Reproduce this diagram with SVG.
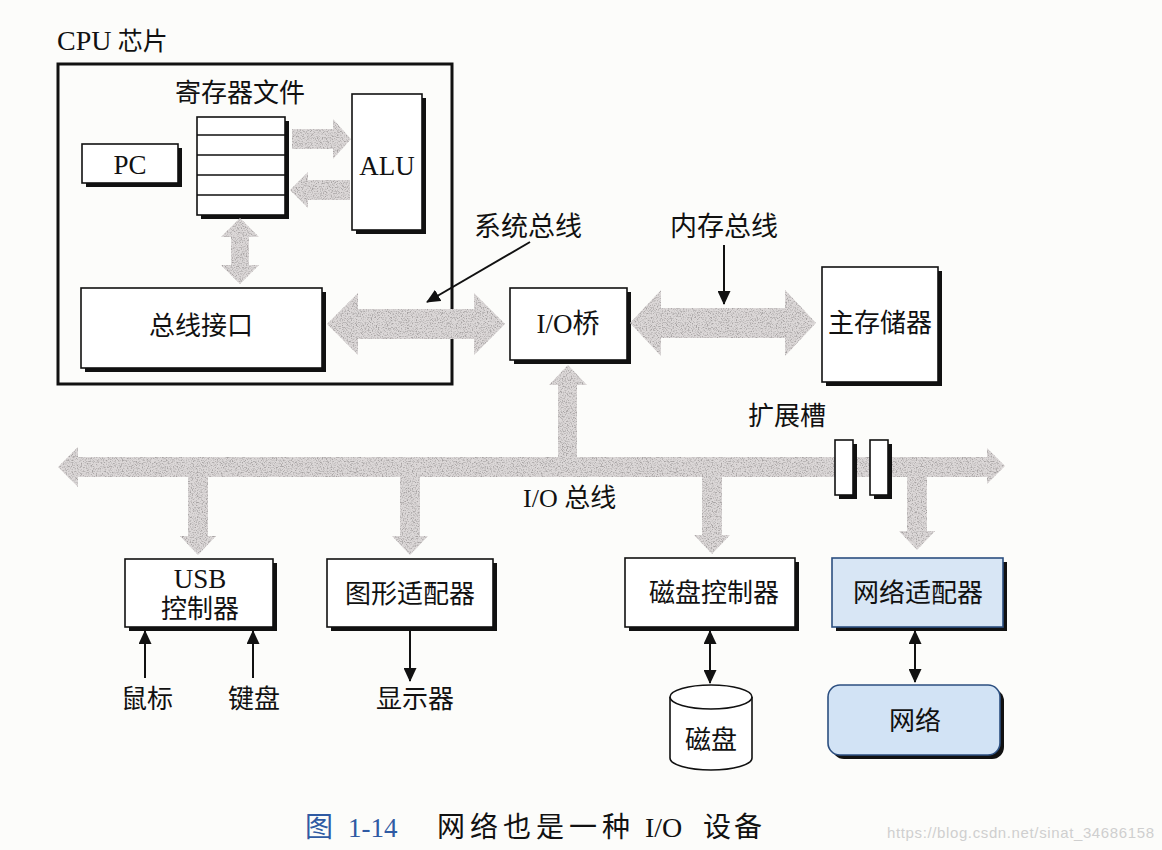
<svg xmlns="http://www.w3.org/2000/svg" width="1162" height="850" viewBox="0 0 1162 850">
<style>
.cj{font-family:"Liberation Serif","Noto Sans CJK SC",serif;fill:#111;}
.lt{font-family:"Liberation Serif",serif;fill:#111;}
.box{fill:#fff;stroke:#111;stroke-width:1.6;}
.shd{fill:#111;}
.thin{stroke:#111;stroke-width:2;fill:none;}
.bus{fill:#dcd8d8;}
</style>
<defs>
<filter id="grain" x="-2%" y="-2%" width="104%" height="104%">
<feTurbulence type="fractalNoise" baseFrequency="0.8" numOctaves="2" seed="7" result="noise"/>
<feColorMatrix in="noise" type="matrix" values="0 0 0 0 0.38 0 0 0 0 0.36 0 0 0 0 0.36 3.4 0 0 0 -1.55" result="dots"/>
<feComposite in="dots" in2="SourceGraphic" operator="in" result="clipped"/>
<feMerge><feMergeNode in="SourceGraphic"/><feMergeNode in="clipped"/></feMerge>
</filter>
<marker id="ah" markerUnits="userSpaceOnUse" markerWidth="14" markerHeight="13" viewBox="0 0 14 13" refX="13" refY="6.5" orient="auto-start-reverse">
<path d="M0,0 L14,6.5 L0,13 Z" fill="#111"/>
</marker>
</defs>
<rect x="0" y="0" width="1162" height="850" fill="#fcfcfa"/>

<g id="cpu-chip">
<text class="cj" x="57" y="50" font-size="25"><tspan font-size="28">CPU</tspan> 芯片</text>
<rect x="58" y="64" width="394" height="320" fill="none" stroke="#111" stroke-width="3"/>
</g>

<g id="register-file">
<text class="cj" x="240" y="102" font-size="26" text-anchor="middle">寄存器文件</text>
<rect class="shd" x="201" y="121" width="88" height="98"/>
<rect class="box" x="197" y="117" width="88" height="98"/>
<path d="M197,135 H285 M197,155 H285 M197,175 H285 M197,195 H285" stroke="#111" stroke-width="1.6"/>
</g>

<g id="pc">
<rect class="shd" x="86" y="148" width="96" height="39"/>
<rect class="box" x="82" y="144" width="96" height="39"/>
<text class="lt" x="130" y="174" font-size="27" text-anchor="middle">PC</text>
</g>

<g id="alu">
<rect class="shd" x="356" y="98" width="70" height="136"/>
<rect class="box" x="352" y="94" width="70" height="136"/>
<text class="lt" x="387" y="175" font-size="27" text-anchor="middle">ALU</text>
</g>

<g id="bus-interface">
<rect class="shd" x="85" y="292" width="241" height="80"/>
<rect class="box" x="81" y="288" width="241" height="80"/>
<text class="cj" x="201" y="335" font-size="26" text-anchor="middle">总线接口</text>
</g>

<g id="io-bridge">
<rect class="shd" x="514" y="292" width="117" height="72"/>
<rect class="box" x="510" y="288" width="117" height="72"/>
<text class="cj" x="568" y="333" font-size="27" text-anchor="middle">I/O桥</text>
</g>

<g id="main-memory">
<rect class="shd" x="826" y="271" width="116" height="115"/>
<rect class="box" x="822" y="267" width="116" height="115"/>
<text class="cj" x="880" y="332" font-size="26" text-anchor="middle">主存储器</text>
</g>

<g id="connectors">
<g id="wide-buses" class="bus" filter="url(#grain)">
<path id="reg-to-alu" d="M292,129 H333 V119 L351,139 L333,159 V149 H292 Z"/>
<path id="alu-to-reg" d="M350,180 H308 V172 L290,190 L308,208 V200 H350 Z"/>
<path id="reg-to-busif" d="M240,218 L259,237 H249 V265 H259 L240,284 L221,265 H231 V237 H221 Z"/>
<path id="system-bus" d="M327,324 L358,293 V309 H474 V293 L505,324 L474,355 V339 H358 V355 Z"/>
<path id="memory-bus" d="M630,323 L661,290 V308 H785 V290 L816,323 L785,356 V338 H661 V356 Z"/>
<path id="io-bus" d="M58,467 L78,447 V457 H987 V448 L1005,466 L987,484 V477 H78 V487 Z"/>
<path id="bus-to-bridge" d="M558,470 V385 H549 L568,365 L587,385 H577 V470 Z"/>
<path id="bus-to-usb" d="M188,470 V536 H180 L198,555 L216,536 H208 V470 Z"/>
<path id="bus-to-gfx" d="M400,470 V536 H392 L410,555 L428,536 H420 V470 Z"/>
<path id="bus-to-disk" d="M702,470 V535 H694 L712,554 L730,535 H722 V470 Z"/>
<path id="bus-to-net" d="M907,470 V531 H899 L917,550 L935,531 H927 V470 Z"/>
</g>
<line class="thin" x1="530" y1="242" x2="427" y2="302" marker-end="url(#ah)"/>
<line class="thin" x1="724" y1="245" x2="724" y2="304" marker-end="url(#ah)"/>
<line class="thin" x1="145" y1="678" x2="145" y2="631" marker-end="url(#ah)"/>
<line class="thin" x1="253" y1="678" x2="253" y2="631" marker-end="url(#ah)"/>
<line class="thin" x1="410" y1="631" x2="410" y2="681" marker-end="url(#ah)"/>
<line class="thin" x1="710" y1="631" x2="710" y2="683" marker-start="url(#ah)" marker-end="url(#ah)"/>
<line class="thin" x1="915" y1="631" x2="915" y2="682" marker-start="url(#ah)" marker-end="url(#ah)"/>
</g>

<g id="labels">
<text class="cj" x="528" y="236" font-size="27" text-anchor="middle">系统总线</text>
<text class="cj" x="724" y="236" font-size="27" text-anchor="middle">内存总线</text>
<text class="cj" x="748" y="425" font-size="26">扩展槽</text>
<text class="cj" x="523" y="507" font-size="26">I/O 总线</text>
</g>

<g id="expansion-slots">
<rect class="shd" x="839" y="444" width="18" height="55"/>
<rect class="box" x="835" y="440" width="18" height="55"/>
<rect class="shd" x="874" y="444" width="18" height="55"/>
<rect class="box" x="870" y="440" width="18" height="55"/>
</g>

<g id="usb-controller">
<rect class="shd" x="129" y="563" width="148" height="68"/>
<rect class="box" x="125" y="559" width="148" height="68"/>
<text class="lt" x="200" y="588" font-size="27" text-anchor="middle">USB</text>
<text class="cj" x="200" y="618" font-size="26" text-anchor="middle">控制器</text>
</g>

<g id="graphics-adapter">
<rect class="shd" x="331" y="563" width="166" height="68"/>
<rect class="box" x="327" y="559" width="166" height="68"/>
<text class="cj" x="410" y="603" font-size="26" text-anchor="middle">图形适配器</text>
</g>

<g id="disk-controller">
<rect class="shd" x="629" y="562" width="170" height="69"/>
<rect class="box" x="625" y="558" width="170" height="69"/>
<text class="cj" x="714" y="602" font-size="26" text-anchor="middle">磁盘控制器</text>
</g>

<g id="network-adapter">
<rect class="shd" x="836" y="562" width="171" height="69"/>
<rect x="832" y="558" width="171" height="69" fill="#d8e6f5" stroke="#2c4f80" stroke-width="1.6"/>
<text class="cj" x="918" y="602" font-size="26" text-anchor="middle">网络适配器</text>
</g>

<g id="mouse"><text class="cj" x="147" y="708" font-size="26" text-anchor="middle">鼠标</text></g>
<g id="keyboard"><text class="cj" x="254" y="708" font-size="26" text-anchor="middle">键盘</text></g>
<g id="display"><text class="cj" x="415" y="708" font-size="26" text-anchor="middle">显示器</text></g>

<g id="disk">
<path d="M670,697 V758 A41,12 0 0 0 752,758 V697" fill="#fff" stroke="#111" stroke-width="1.6"/>
<ellipse cx="711" cy="697" rx="41" ry="12" fill="#fff" stroke="#111" stroke-width="1.6"/>
<text class="cj" x="711" y="749" font-size="26" text-anchor="middle">磁盘</text>
</g>

<g id="network">
<rect class="shd" x="832" y="689" width="172" height="70" rx="12"/>
<rect x="828" y="685" width="172" height="70" rx="12" fill="#d2e3f5" stroke="#2c4f80" stroke-width="1.6"/>
<text class="cj" x="915" y="730" font-size="26" text-anchor="middle">网络</text>
</g>

<g id="caption">
<text class="cj" y="837" font-size="28"><tspan x="305" fill="#2f5aa3">图</tspan><tspan x="348" fill="#2f5aa3" font-size="27">1-14</tspan><tspan x="437" letter-spacing="5">网络也是一种</tspan><tspan x="645">I/O</tspan><tspan x="703" letter-spacing="3">设备</tspan></text>
<text x="887" y="838" font-family="'Liberation Sans',sans-serif" font-size="15" fill="#cfcfcf" textLength="267">https://blog.csdn.net/sinat_34686158</text>
</g>
</svg>
